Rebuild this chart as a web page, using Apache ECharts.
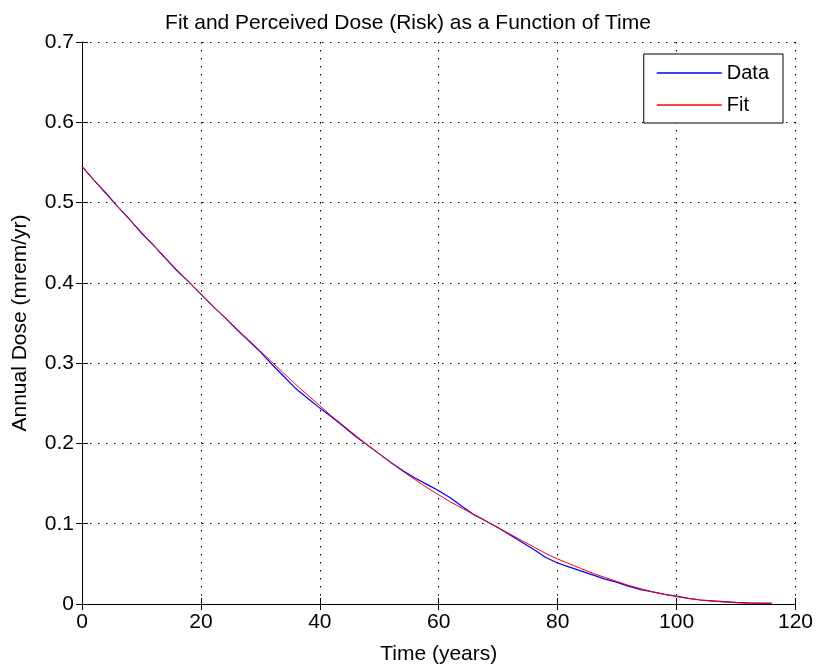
<!DOCTYPE html>
<html>
<head>
<meta charset="utf-8">
<script src="https://cdn.jsdelivr.net/npm/echarts@6/dist/echarts.min.js"></script>
<style>html,body{margin:0;padding:0;background:#fff}#c{width:816px;height:670px}</style>
</head>
<body>
<div id="c"></div>
<script>
const titleText = 'Fit and Perceived Dose (Risk) as a Function of Time';
const xName = 'Time (years)';
const yName = 'Annual Dose (mrem/yr)';
const years = [0,2,4,6,8,10,12,14,16,18,20,22,24,26,28,30,32,34,36,38,40,42,44,46,48,50,52,54,56,58,60,62,64,66,68,70,72,74,76,78,80,82,84,86,88,90,92,94,96,98,100,102,104,106,108,110,112,114,116];
const dataValues = [0.545,0.528,0.512,0.495,0.479,0.462,0.447,0.431,0.415,0.401,0.386,0.371,0.357,0.342,0.328,0.314,0.298,0.283,0.268,0.256,0.244,0.233,0.221,0.209,0.198,0.187,0.176,0.166,0.157,0.149,0.141,0.132,0.121,0.111,0.103,0.095,0.086,0.077,0.068,0.058,0.051,0.046,0.041,0.036,0.031,0.027,0.022,0.018,0.015,0.012,0.010,0.007,0.005,0.004,0.003,0.002,0.0015,0.0012,0.0010];
const fitValues = [0.545,0.528,0.511,0.495,0.479,0.463,0.447,0.431,0.416,0.401,0.386,0.371,0.357,0.343,0.329,0.315,0.301,0.287,0.273,0.260,0.247,0.234,0.222,0.210,0.198,0.187,0.176,0.165,0.155,0.145,0.136,0.127,0.119,0.111,0.103,0.095,0.087,0.079,0.071,0.063,0.056,0.050,0.044,0.038,0.033,0.028,0.023,0.019,0.015,0.012,0.009,0.007,0.005,0.0035,0.0025,0.0015,0.001,0.0007,0.0005];
const seriesNames = ['Data','Fit'];

const font = 'Liberation Sans, Arial, Helvetica, sans-serif';
const chart = echarts.init(document.getElementById('c'), null, {renderer:'canvas'});
const dotted = {color:'#000', width:1, type:[1.5,6.5]};
const axisLine = {show:true, lineStyle:{color:'#000', width:1}};
const tickIn = {show:true, inside:true, length:6, lineStyle:{color:'#000'}};
chart.setOption({
  animation:false,
  backgroundColor:'#fff',
  title:{text:titleText, left:'center', top:8, textStyle:{fontFamily:font, fontSize:21, fontWeight:'normal', color:'#000'}},
  legend:{
    data:seriesNames, orient:'vertical', right:33, top:54,
    backgroundColor:'#fff', borderColor:'#000', borderWidth:1, borderRadius:0,
    padding:[9,14,8,13], itemGap:12, itemWidth:65, itemHeight:1.5, icon:'rect',
    textStyle:{fontFamily:font, fontSize:20, color:'#000'}
  },
  grid:{left:82, right:19, top:42, bottom:64, containLabel:false},
  xAxis:[
    {type:'value', min:0, max:120, interval:20, position:'bottom',
     name:xName, nameLocation:'middle', nameGap:40,
     nameTextStyle:{fontFamily:font, fontSize:21, color:'#000'},
     axisLine:axisLine, axisTick:tickIn,
     axisLabel:{fontFamily:font, fontSize:21, color:'#000', margin:8},
     splitLine:{show:true, lineStyle:dotted}},
    {type:'value', min:0, max:120, interval:20, position:'top',
     axisLine:axisLine, axisTick:tickIn, axisLabel:{show:false}, splitLine:{show:false}}
  ],
  yAxis:[
    {type:'value', min:0, max:0.7, interval:0.1, position:'left',
     name:yName, nameLocation:'middle', nameGap:51,
     nameTextStyle:{fontFamily:font, fontSize:21, color:'#000'},
     axisLine:axisLine, axisTick:tickIn,
     axisLabel:{fontFamily:font, fontSize:21, color:'#000', margin:8, formatter:v=>v===0?'0':v.toFixed(1)},
     splitLine:{show:true, lineStyle:dotted}},
    {type:'value', min:0, max:0.7, interval:0.1, position:'right',
     axisLine:axisLine, axisTick:tickIn, axisLabel:{show:false}, splitLine:{show:false}}
  ],
  series:[
    {name:seriesNames[0], type:'line', showSymbol:false, symbol:'none', color:'#0000ff',
     lineStyle:{width:1.2, color:'#0000ff'}, data:years.map((t,i)=>[t,dataValues[i]])},
    {name:seriesNames[1], type:'line', showSymbol:false, symbol:'none', color:'#ff0000',
     lineStyle:{width:1, color:'#ff0000'}, data:years.map((t,i)=>[t,fitValues[i]])}
  ]
});
</script>
</body>
</html>
